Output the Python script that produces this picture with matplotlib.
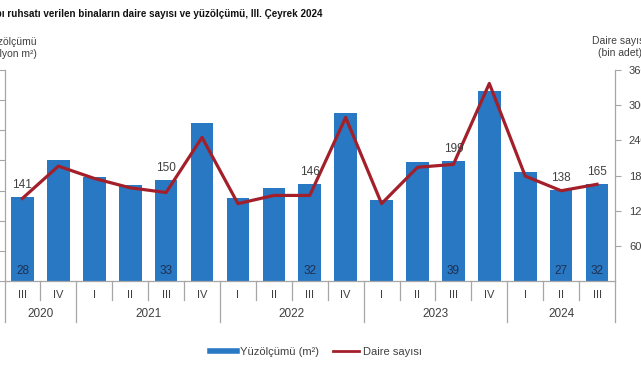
import matplotlib
matplotlib.use("Agg")
import matplotlib.pyplot as plt
from matplotlib.lines import Line2D
import numpy as np

plt.rcParams['font.family'] = ['Liberation Sans', 'DejaVu Sans']

# data
quarters = ["III", "IV", "I", "II", "III", "IV", "I", "II", "III", "IV",
            "I", "II", "III", "IV", "I", "II", "III"]
years = ["2020", "2021", "2022", "2023", "2024"]
year_span = [2, 4, 4, 4, 3]
area = [28.0, 40.0, 34.4, 31.8, 33.5, 52.3, 27.6, 31.0, 32.2, 55.8,
        27.0, 39.4, 39.8, 62.9, 36.0, 30.3, 32.3]          # milyon m2
dwellings = [141, 196, 175, 159, 151, 245, 132, 146, 146, 279,
             132, 194, 199, 337, 179, 154, 165]            # bin adet
area_labels = {0: "28", 4: "33", 8: "32", 12: "39", 15: "27", 16: "32"}
dw_labels = {0: "141", 4: "150", 8: "146", 12: "199", 15: "138", 16: "165"}

W, H = 641, 380
BLUE = "#2878c3"
RED = "#a3202a"
GRAY = "#a6a6a6"
TXT = "#404040"

fig = plt.figure(figsize=(W / 100, H / 100), dpi=100)
x0, x1, y0, y1 = 4.5, 615, 70, 281
ax = fig.add_axes([x0 / W, 1 - y1 / H, (x1 - x0) / W, (y1 - y0) / H])
ax2 = ax.twinx()

x = np.arange(len(quarters))
ax.bar(x, area, width=0.63, color=BLUE, zorder=2)
ax2.plot(x, dwellings, color=RED, lw=2.3, zorder=3)

ax.set_xlim(-0.5, len(quarters) - 0.5)
ax.set_ylim(0, 70)
ax.set_yticks(range(0, 71, 10))
ax2.set_ylim(0, 360)
ax2.set_yticks(range(60, 361, 60))
ax.set_xticks([])

for a in (ax, ax2):
    a.spines['top'].set_visible(False)
    for s in ('left', 'right', 'bottom'):
        a.spines[s].set_color(GRAY)
        a.spines[s].set_linewidth(0.9)
ax.spines['right'].set_visible(False)
ax2.spines['left'].set_visible(False)
ax2.spines['bottom'].set_visible(False)
# left tick labels lie outside the visible crop of the reference
ax.tick_params(axis='y', length=4, color=GRAY, labelleft=False)
ax2.tick_params(axis='y', length=4, color=GRAY, labelsize=8, labelcolor=TXT, pad=6)

# labels on bars and line
fig.canvas.draw()
for i, s in area_labels.items():
    ax.annotate(s, (i, 0), xytext=(0, 3), textcoords='offset points',
                ha='center', va='bottom', fontsize=8.5, color="#1f3050", zorder=4)
for i, s in dw_labels.items():
    top_bar = ax.transData.transform((i, area[i]))[1]
    top_line = ax2.transData.transform((i, dwellings[i]))[1]
    ytop = max(top_bar, top_line)
    ax2.annotate(s, xy=(i, ax2.transData.inverted().transform((0, ytop))[1]),
                 xytext=(0, 4), textcoords='offset points', ha='center', va='bottom',
                 fontsize=8.5, color=TXT)

# category axis: quarters, years and separators
tr = ax.get_xaxis_transform()
ph = y1 - y0
for i, q in enumerate(quarters):
    ax.text(i, -14 / ph, q, transform=tr, ha='center', va='center', fontsize=8, color=TXT)
bounds = np.cumsum([0] + year_span) - 0.5
for i in range(len(quarters) + 1):
    xb = i - 0.5
    yend = -41 / ph if xb in bounds else -19 / ph
    ax.add_line(Line2D([xb, xb], [0, yend], transform=tr, color=GRAY, lw=0.9, clip_on=False))
for k, yr in enumerate(years):
    xc = (bounds[k] + bounds[k + 1]) / 2
    ax.text(xc, -33 / ph, yr, transform=tr, ha='center', va='center', fontsize=8.5, color=TXT)

# titles
fig.text(323 / W, 1 - 14 / H,
         "Yapı ruhsatı verilen binaların daire sayısı ve yüzölçümü, III. Çeyrek 2024",
         ha='right', va='center', fontsize=7.1, fontweight='bold', color="#111111")
fig.text(37 / W, 1 - 48 / H, "Yüzölçümü\n(milyon m²)", ha='right', va='center',
         multialignment='center', fontsize=7.5, color=TXT, linespacing=1.3)
fig.text(592 / W, 1 - 47 / H, "Daire sayısı\n(bin adet)", ha='left', va='center',
         multialignment='center', fontsize=7.5, color=TXT, linespacing=1.3)

handles = [Line2D([], [], color=BLUE, lw=4), Line2D([], [], color=RED, lw=2)]
fig.legend(handles, ["Yüzölçümü (m²)", "Daire sayısı"], loc='center',
           bbox_to_anchor=(316 / W, 1 - 352 / H), ncol=2, frameon=False,
           fontsize=8, handlelength=2.4, handletextpad=0.3, columnspacing=1.2,
           labelcolor=TXT)

fig.savefig("out.png", dpi=100)
